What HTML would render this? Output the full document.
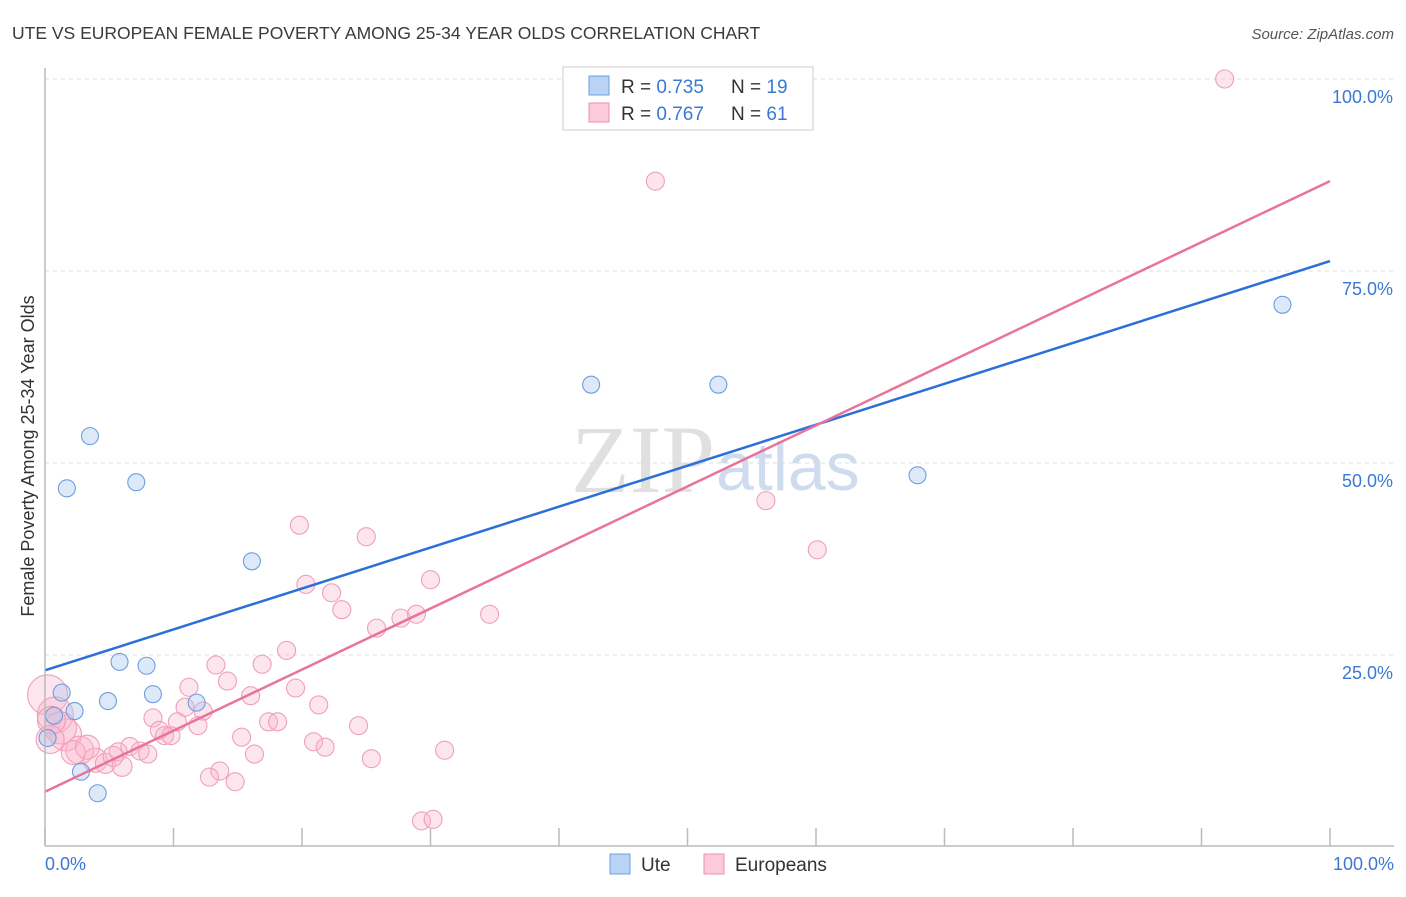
<!DOCTYPE html>
<html><head><meta charset="utf-8"><style>
body{margin:0;background:#fff;font-family:"Liberation Sans",sans-serif}
#wrap{position:relative;width:1406px;height:892px}
</style></head><body>
<div id="wrap">
<svg id="chart" width="1406" height="892">
<text x="12" y="39" font-size="17.5" fill="#3a3a3a">UTE VS EUROPEAN FEMALE POVERTY AMONG 25-34 YEAR OLDS CORRELATION CHART</text>
<text x="1394" y="39" font-size="15" fill="#555" text-anchor="end" font-style="italic">Source: ZipAtlas.com</text>
<text x="715" y="492" font-size="96" fill="#e0e0e0" text-anchor="end" font-family="Liberation Serif">ZIP</text>
<text x="716" y="490" font-size="68" fill="#cfdcef">atlas</text>
<text transform="translate(34,456) rotate(-90)" font-size="18" fill="#333" text-anchor="middle">Female Poverty Among 25-34 Year Olds</text>
<g id="grid"></g><g id="ticks"></g><g id="pts"></g><g id="lines"></g>
<line x1="45" y1="68" x2="45" y2="846" stroke="#bbb" stroke-width="1.5"/>
<line x1="45" y1="846" x2="1394" y2="846" stroke="#bbb" stroke-width="1.5"/>
<text x="45" y="870" font-size="18" fill="#3a78d4">0.0%</text>
<text x="1394" y="870" font-size="18" fill="#3a78d4" text-anchor="end">100.0%</text>
<g>
<rect x="563" y="67" width="250" height="63" fill="#fff" stroke="#ccc"/>
<rect x="589" y="76" width="20" height="19" fill="#b9d3f5" stroke="#6d9ee0"/>
<rect x="589" y="103" width="20" height="19" fill="#fbcbd9" stroke="#ec8fae"/>
<text x="621" y="93" font-size="19" fill="#333">R = <tspan fill="#3a78d4">0.735</tspan></text>
<text x="731" y="93" font-size="19" fill="#333">N = <tspan fill="#3a78d4">19</tspan></text>
<text x="621" y="120" font-size="19" fill="#333">R = <tspan fill="#3a78d4">0.767</tspan></text>
<text x="731" y="120" font-size="19" fill="#333">N = <tspan fill="#3a78d4">61</tspan></text>
</g>
<g>
<rect x="610" y="854" width="20" height="20" fill="#b9d3f5" stroke="#6d9ee0"/>
<text x="641" y="871" font-size="19" fill="#333">Ute</text>
<rect x="704" y="854" width="20" height="20" fill="#fbcbd9" stroke="#ec8fae"/>
<text x="735" y="871" font-size="19" fill="#333">Europeans</text>
</g>
</svg></div>
<script>
const yTicks=[25,50,75,100];
const yTickLabels=["25.0%","50.0%","75.0%","100.0%"];
const xTicks=[0,10,20,30,40,50,60,70,80,90,100];
const uteX=[3.5,1.7,7.1,16.1,42.5,52.4,67.9,96.3,5.8,7.9,8.4,1.3,4.9,11.8,2.3,0.7,0.2,2.8,4.1];
const uteY=[53.5,46.7,47.5,37.2,60.2,60.2,48.4,70.6,24.1,23.6,19.9,20.1,19.0,18.8,17.7,17.1,14.2,9.8,7.0];
const euroX=[91.8,47.5,56.1,60.1,19.8,25.0,30.0,20.3,22.3,23.1,34.6,28.9,27.7,25.8,18.8,13.3,16.9,14.2,11.2,19.5,16.0,21.3,10.9,12.3,8.4,10.3,17.4,18.1,11.9,24.4,8.9,9.3,9.8,15.3,20.9,21.8,31.1,6.6,5.7,7.4,8.0,16.3,25.4,13.6,12.8,14.8,29.3,30.2,0.2,0.8,1.6,2.7,3.9,4.7,1.2,0.5,2.2,5.3,6.0,3.3,0.4];
const euroY=[100,86.7,45.1,38.7,41.9,40.4,34.8,34.2,33.1,30.9,30.3,30.3,29.8,28.5,25.6,23.7,23.8,21.6,20.8,20.7,19.7,18.5,18.2,17.7,16.8,16.3,16.3,16.3,15.8,15.8,15.2,14.5,14.5,14.3,13.7,13.0,12.6,13.1,12.4,12.5,12.1,12.1,11.5,9.9,9.1,8.5,3.4,3.6,19.8,17.2,14.6,12.6,11.3,10.9,15.5,16.5,12.3,11.8,10.5,13.0,14.0];
const euroR=[9,9,9,9,9,9,9,9,9,9,9,9,9,9,9,9,9,9,9,9,9,9,9,9,9,9,9,9,9,9,9,9,9,9,9,9,9,9,9,9,9,9,9,9,9,9,9,9,20,18,16,14,12,10,16,14,12,10,10,12,14];
const uteTrend=[23.0,76.3];
const euroTrend=[7.2,86.7];
const sx=v=>45+v*12.85, sy=v=>847-v*7.68;
const NS="http://www.w3.org/2000/svg";
function mk(t,a,p){const e=document.createElementNS(NS,t);for(const k in a)e.setAttribute(k,a[k]);p.appendChild(e);return e;}
const grid=document.getElementById('grid'),ticks=document.getElementById('ticks'),pts=document.getElementById('pts'),lines=document.getElementById('lines');
yTicks.forEach((t,i)=>{
 const l=mk('line',{x1:45,x2:1394,y1:sy(t),y2:sy(t),stroke:'#ddd','stroke-dasharray':'4,4'},grid);
 
 
 const tx=mk('text',{x:1393,y:sy(t)+24,'font-size':18,fill:'#3a78d4','text-anchor':'end'},grid);
 tx.textContent=yTickLabels[i];
 
 
});
xTicks.forEach(t=>{
 const l=mk('line',{x1:sx(t),x2:sx(t),y1:828,y2:846,stroke:'#bbb','stroke-width':1.5},ticks);
 
 
});
euroX.forEach((x,i)=>{
 const c=mk('circle',{cx:sx(x),cy:sy(euroY[i]),r:euroR[i],fill:'rgba(248,180,202,0.35)',stroke:'#ef9fba','stroke-width':1.1},pts);
 
 
});
uteX.forEach((x,i)=>{
 const c=mk('circle',{cx:sx(x),cy:sy(uteY[i]),r:8.5,fill:'rgba(170,200,240,0.4)',stroke:'#6d9ee0','stroke-width':1.1},pts);
 
 
});
const ul=mk('line',{x1:sx(0),y1:sy(uteTrend[0]),x2:sx(100),y2:sy(uteTrend[1]),stroke:'#2a70d8','stroke-width':2.5},lines);


const el=mk('line',{x1:sx(0),y1:sy(euroTrend[0]),x2:sx(100),y2:sy(euroTrend[1]),stroke:'#e8739b','stroke-width':2.5},lines);


</script>
</body></html>
